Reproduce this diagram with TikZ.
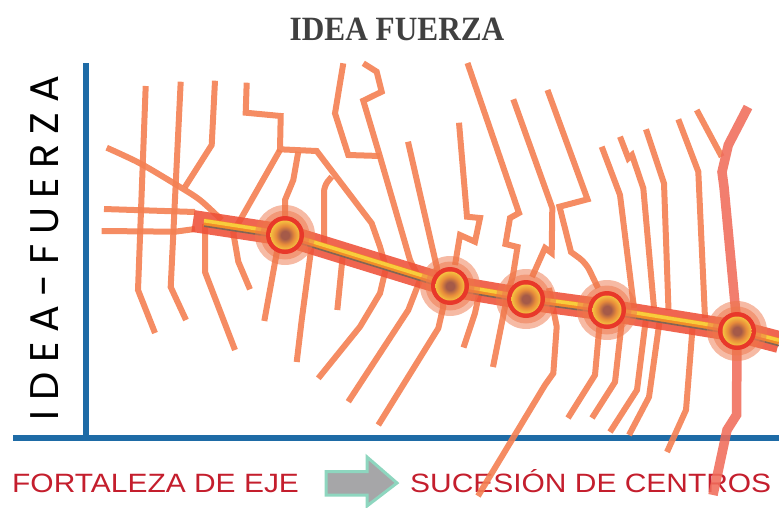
\documentclass[tikz,border=0pt]{standalone}
\usepackage{fontspec}
\usepackage{tikz}
\usetikzlibrary{calc}

\newfontfamily\titlefont{Liberation Serif}
\newfontfamily\axisfont{Poppins}[LetterSpace=24]
\newfontfamily\labelfont{Liberation Sans}

\definecolor{twig}{RGB}{244,128,82}
\definecolor{stemred}{RGB}{240,108,90}
\definecolor{bandred}{RGB}{238,80,56}
\definecolor{haloorange}{RGB}{238,118,74}
\definecolor{ringred}{RGB}{232,56,42}
\definecolor{axisblue}{RGB}{30,107,166}
\definecolor{labelred}{RGB}{196,30,45}
\definecolor{titlegray}{RGB}{64,64,64}
\definecolor{arrowgray}{RGB}{166,166,168}
\definecolor{arrowmint}{RGB}{142,214,191}
\definecolor{stripeorange}{RGB}{242,140,40}
\definecolor{stripeyellow}{RGB}{248,205,60}
\definecolor{stripebrown}{RGB}{130,100,85}
\definecolor{corebrown}{RGB}{165,90,72}
\definecolor{coreorange}{RGB}{232,140,58}
\definecolor{coreyellow}{RGB}{245,192,64}

\pgfdeclareradialshading{core}{\pgfpoint{0bp}{0bp}}{%
  color(0bp)=(corebrown); color(7bp)=(corebrown);
  color(16bp)=(coreorange); color(25bp)=(coreyellow); color(50bp)=(coreyellow)}

\begin{document}
\begin{tikzpicture}[
  x=1pt, y=-1pt,
  branch/.style = {line width=6pt, draw=twig, draw opacity=0.9},
  stem/.style = {line width=9.5pt, draw=stemred, draw opacity=0.88},
  axis/.style = {line width=5.5pt, draw=axisblue},
  band/.style = {line width=22pt, draw=bandred, draw opacity=0.88},
  halo/.style = {fill=haloorange, fill opacity=0.5},
  label/.style = {font=\labelfont\fontsize{26.5}{26.5}\selectfont, text=labelred, inner sep=0pt}
]
  \useasboundingbox (0,0) rectangle (779,507);

  % centres on the axis
  \coordinate (c1) at (285,235);
  \coordinate (c2) at (450,286);
  \coordinate (c3) at (526,299);
  \coordinate (c4) at (607,310);
  \coordinate (c5) at (737,331);

  % Title
  \node[anchor=base, inner sep=0pt, text=titlegray,
        font=\titlefont\bfseries\fontsize{34}{34}\selectfont] (title) at (397,40)
        {\scalebox{0.92}[1]{IDEA FUERZA}};

  % Vertical label
  \node[rotate=90, anchor=base, inner sep=0pt,
        font=\axisfont\fontsize{40}{40}\selectfont] (ylabel) at (58,248) {IDEA-FUERZA};

  % Bottom labels
  \node[label, anchor=base west] (eje) at (12,492) {\scalebox{1.13}[1]{FORTALEZA DE EJE}};
  \node[label, anchor=base west] (centros) at (410,492) {\scalebox{1.13}[1]{SUCESIÓN DE CENTROS}};

  % Shift arrow
  \draw[line width=3pt, draw=arrowmint, fill=arrowgray, line join=miter]
    (326,471.5) -- (367,471.5) -- (367,457) -- (397,483) -- (367,506) -- (367,495) -- (326,495) -- cycle;

  % Axes
  \draw[axis] (86,63) -- (86,440);
  \draw[axis] (13,438) -- (779,438);

  % Left fan
  \draw[branch] (145.7,86) -- (138,290) -- (155,333);
  \draw[branch] (180.7,81.7) -- (170.7,287) -- (186,320);
  \draw[branch] (215,80.7) -- (211.7,145) -- (185,187);
  \draw[branch] plot[smooth] coordinates {(106.7,147.7) (140,163.3) (176.7,185) (200,200) (221.7,220)};
  \draw[branch] (104,209) -- (195,212);
  \draw[branch] (101.7,231) -- (175,231.7) -- (195,229);
  \draw[branch] (205,224) -- (205,272) -- (235,350);

  % Around the first centre
  \draw[branch] (246.7,82.7) -- (245.7,112.7) -- (280.7,116) -- (280,149.3) -- (316.7,151)
    -- (371.7,223.3) -- (380,246.7) -- (386,268) -- (380,293.3) -- (360,326.7) -- (318.3,378.3);
  \draw[branch] (280,150) -- (238.3,223.3) -- (233.3,233) -- (238.3,261.7) -- (250,289.3);
  \draw[branch] (298.3,151.7) -- (293.3,180) -- (285,200) -- (285,235) -- (276.7,253) -- (264.3,321);
  \draw[branch, rounded corners=6pt] (331.7,176.7) -- (324,186) -- (324,245);
  \draw[branch] (343.3,250) -- (337.3,310);
  \draw[branch] (311.7,245) -- (301.7,320) -- (296.7,362);

  % Middle group
  \draw[branch] (343.3,63.3) -- (335,113.3) -- (348.3,155) -- (380,156);
  \draw[branch] (363.3,63.3) -- (376.7,71.7) -- (381.7,91.7) -- (363.3,100.7) -- (380,156.7)
    -- (410,260) -- (420,280) -- (408.3,310) -- (348.3,401.7);
  \draw[branch] (408,141.7) -- (436.7,266.7) -- (443.3,306.7) -- (438.3,328.3) -- (378.3,425);
  \draw[branch] (459,122.7) -- (467,216.7) -- (480,218) -- (475,241.7) -- (460,235) -- (455,265);
  \draw[branch] (467.5,63) -- (519,213) -- (510,218) -- (505.5,244) -- (517.5,247) -- (513,275)
    -- (507,297) -- (493,367);
  \draw[branch] (480,290) -- (475,313) -- (463.5,347.5);
  \draw[branch] (513.3,99.3) -- (552.3,208) -- (551.7,253) -- (545,248) -- (532,277);
  \draw[branch] (547.5,90) -- (587.5,199.3) -- (559.5,206.7) -- (571,252)
    [rounded corners=8pt] -- (586,263) -- (598,288);
  \draw[branch] (549,288) -- (556.7,326.7) -- (553.3,373.3) -- (545,385) -- (478,496);

  % Right group
  \draw[branch] (601.7,146.7) -- (620,195) -- (634,308);
  \draw[branch] (620,136.7) -- (628.3,158.3) -- (632,155) -- (643.3,188.3) -- (654,308);
  \draw[branch] (646,129.3) -- (664,183.3) -- (668.5,310);
  \draw[branch] (678.3,119.3) -- (698.3,171.7) -- (705,318);
  \draw[branch] (696.7,110) -- (721.7,156.7);
  \draw[stem] (748,107) -- (728.3,145) -- (722,172) -- (724,187) -- (737,325);
  \draw[branch] (600,320) -- (595,375) -- (568,418);
  \draw[branch] (622,320) -- (615,382) -- (592,418);
  \draw[branch] (646,318) -- (637,390) -- (610,432);
  \draw[branch] (660,318) -- (649,397) -- (629,435);
  \draw[branch] (693,322) -- (686,410) -- (667,452);
  \draw[stem] (737,345) -- (736.5,415) -- (727,430) -- (713,495);

  % Main axis
  \draw[band] (193,221) -- (c1) -- (c2) -- (c3) -- (c4) -- (c5) -- (779,342);
  \foreach \dy/\col/\w in {0/stripeorange/8, 1.8/stripeyellow/3.5, -3.6/stripebrown/1.6}
    \draw[line width=\w pt, draw=\col, yshift=\dy pt]
      (204,222.5) -- (285,235) -- (450,286) -- (526,299) -- (607,310) -- (737,331) -- (779,342);

  % Centres
  \foreach \c in {c1,c2,c3,c4,c5} {
    \fill[halo] (\c) circle (30);
    \fill[halo] (\c) circle (24.5);
    \fill[ringred] (\c) circle (19);
    \shade[shading=core] (\c) circle (14.5);
  }
\end{tikzpicture}
\end{document}
